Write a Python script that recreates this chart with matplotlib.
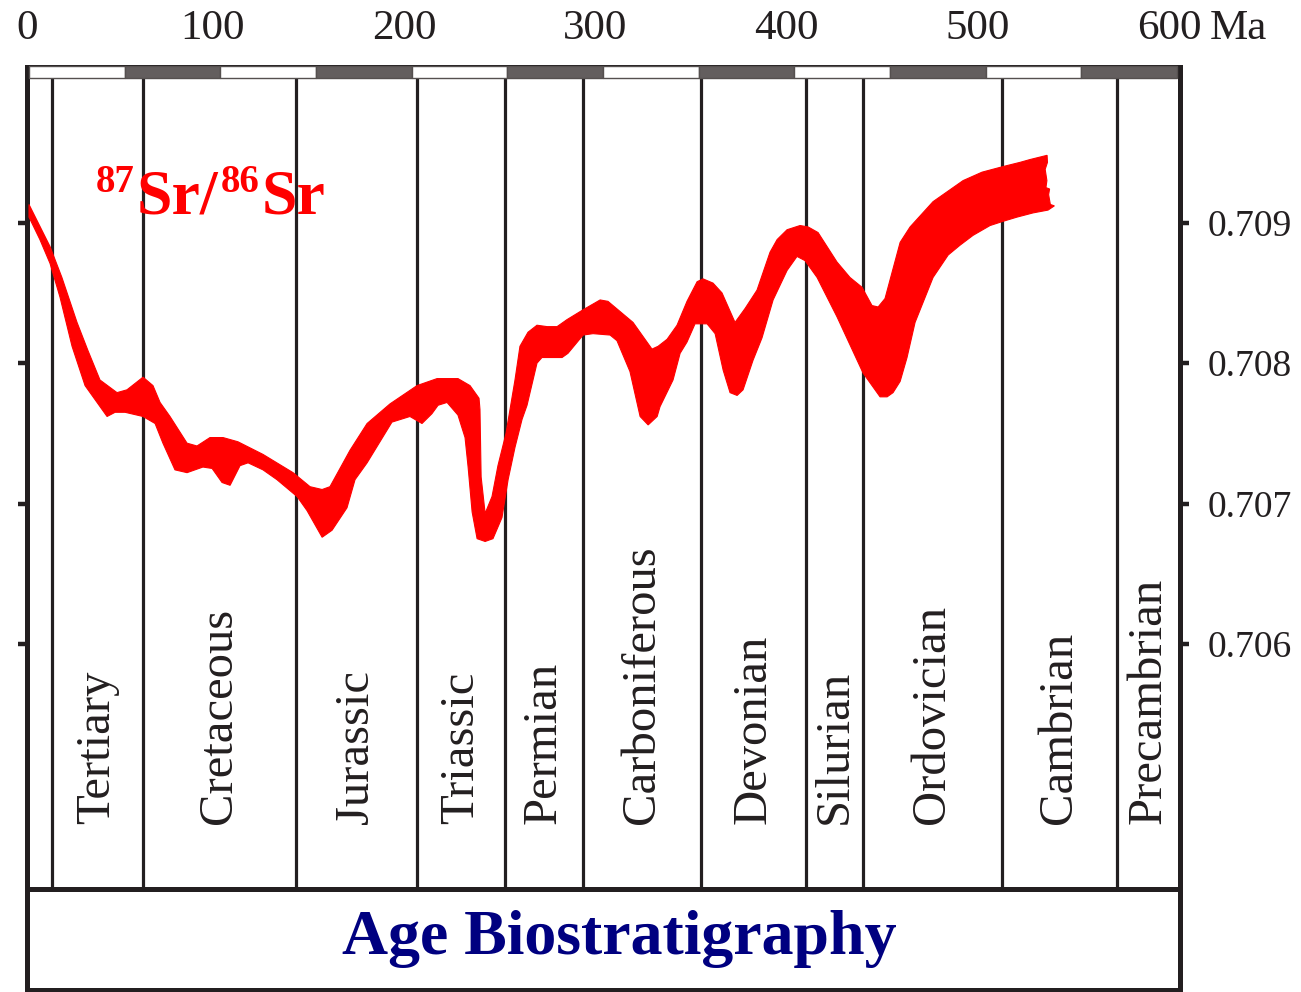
import matplotlib
matplotlib.use("Agg")
import matplotlib.pyplot as plt
from matplotlib.patches import Rectangle

W, H = 1301, 992
INK = "#231f20"
RED = "#ff0000"
NAVY = "#000080"
SERIF = ["Liberation Serif", "DejaVu Serif"]

# age axis (Ma) and strontium ratio axis
age_labels = [0, 100, 200, 300, 400, 500, 600]
sr_ticks = [0.706, 0.707, 0.708, 0.709]
bar_step = 50

# period boundaries (Ma) and names of the columns between them
boundaries = [12.0, 59.6, 139.5, 202.8, 248.8, 289.5, 351.2, 406.1, 435.9, 508.5, 568.6]
periods = ["Tertiary", "Cretaceous", "Jurassic", "Triassic", "Permian",
           "Carboniferous", "Devonian", "Silurian", "Ordovician", "Cambrian",
           "Precambrian"]

# upper edge of the 87Sr/86Sr envelope, young -> old
upper_age = [0, 11.0, 17.2, 25.1, 30.8, 37.1, 46.0, 51.2, 59.6, 64.8, 68.5, 73.7,
             82.6, 87.8, 94.6, 101.4, 109.2, 122.3, 138.0, 146.9, 153.2, 157.3,
             167.8, 176.7, 188.7, 202.8, 213.3, 224.2, 230.5, 235.2, 235.7, 236.3,
             238.4, 242.0, 245.1, 249.3, 254.0, 256.6, 260.8, 265.5, 270.8, 276.0,
             281.2, 289.6, 298.5, 302.6, 315.7, 325.6, 328.8, 333.5, 338.7, 343.9,
             349.2, 352.3, 357.5, 362.2, 369.0, 374.3, 380.5, 387.3, 391.0, 396.2,
             403.0, 407.2, 412.4, 422.3, 429.1, 435.4, 440.6, 443.8, 447.4, 455.3,
             460.5, 472.5, 488.2, 498.1, 509.1, 518.0, 523.2, 532.1, 532.3, 531.1,
             532.0, 531.5, 533.4, 532.9, 533.8]
upper_sr = [0.70913, 0.70883, 0.70861, 0.70829, 0.70809, 0.70788, 0.70779, 0.70781,
            0.70790, 0.70784, 0.70772, 0.70762, 0.70743, 0.70741, 0.70747, 0.70747,
            0.70744, 0.70735, 0.70722, 0.70712, 0.70710, 0.70712, 0.70738, 0.70757,
            0.70771, 0.70784, 0.70789, 0.70789, 0.70784, 0.70775, 0.70767, 0.70719,
            0.70693, 0.70705, 0.70727, 0.70750, 0.70788, 0.70812, 0.70822, 0.70827,
            0.70826, 0.70826, 0.70831, 0.70838, 0.70845, 0.70844, 0.70829, 0.70810,
            0.70812, 0.70817, 0.70827, 0.70844, 0.70858, 0.70860, 0.70857, 0.70850,
            0.70829, 0.70839, 0.70852, 0.70879, 0.70888, 0.70895, 0.70898, 0.70897,
            0.70893, 0.70872, 0.70861, 0.70854, 0.70841, 0.70840, 0.70846, 0.70886,
            0.70897, 0.70915, 0.70930, 0.70936, 0.70940, 0.70943, 0.70945, 0.70948,
            0.70943, 0.70938, 0.70930, 0.70925, 0.70924, 0.70920, 0.70913]

# lower edge of the envelope, young -> old
lower_age = [0, 5.7, 11.0, 16.2, 22.5, 29.3, 40.8, 45.0, 50.2, 59.6, 65.9, 70.0,
             76.3, 82.6, 90.9, 95.7, 100.9, 105.1, 110.3, 114.5, 122.3, 129.6,
             140.1, 145.3, 153.2, 158.4, 166.2, 170.4, 176.7, 189.7, 199.1, 205.4,
             210.6, 213.8, 218.5, 224.2, 227.9, 229.5, 231.6, 234.2, 238.4, 242.5,
             247.2, 250.4, 254.0, 257.7, 260.3, 265.5, 268.1, 273.4, 278.6, 281.7,
             289.6, 294.8, 303.7, 307.3, 314.1, 319.4, 323.6, 328.3, 329.8, 336.6,
             340.3, 343.9, 348.1, 354.4, 358.6, 362.8, 366.4, 370.1, 373.2, 378.4,
             383.1, 388.9, 396.2, 401.4, 405.6, 411.9, 422.3, 429.1, 435.9, 444.8,
             448.5, 451.6, 455.3, 458.9, 463.1, 472.5, 480.4, 486.6, 493.4, 502.3,
             509.1, 516.4, 524.8, 532.6, 535.9]
lower_sr = [0.70904, 0.70888, 0.70871, 0.70847, 0.70812, 0.70784, 0.70762, 0.70765,
            0.70765, 0.70762, 0.70757, 0.70743, 0.70724, 0.70722, 0.70726, 0.70725,
            0.70715, 0.70713, 0.70727, 0.70729, 0.70724, 0.70717, 0.70705, 0.70695,
            0.70676, 0.70681, 0.70697, 0.70717, 0.70729, 0.70758, 0.70762, 0.70757,
            0.70764, 0.70770, 0.70772, 0.70763, 0.70747, 0.70726, 0.70694, 0.70675,
            0.70673, 0.70675, 0.70690, 0.70717, 0.70740, 0.70760, 0.70770, 0.70800,
            0.70804, 0.70804, 0.70804, 0.70807, 0.70820, 0.70821, 0.70820, 0.70816,
            0.70794, 0.70762, 0.70756, 0.70762, 0.70769, 0.70788, 0.70807, 0.70815,
            0.70828, 0.70828, 0.70821, 0.70795, 0.70779, 0.70777, 0.70781, 0.70802,
            0.70818, 0.70845, 0.70866, 0.70876, 0.70873, 0.70861, 0.70833, 0.70813,
            0.70793, 0.70776, 0.70776, 0.70779, 0.70787, 0.70804, 0.70829, 0.70861,
            0.70877, 0.70884, 0.70891, 0.70898, 0.70901, 0.70904, 0.70907, 0.70909,
            0.70912]

fig = plt.figure(figsize=(W / 100, H / 100), dpi=100)

# pixel box of the main panel
left_px, right_px = 26.5, 1179.5
top_px, mid_px, bot_px = 66.5, 889.0, 990.0
ax = fig.add_axes([left_px / W, 1 - mid_px / H,
                   (right_px - left_px) / W, (mid_px - top_px) / H])
ax2 = fig.add_axes([left_px / W, 1 - bot_px / H,
                    (right_px - left_px) / W, (bot_px - mid_px) / H])

ppm = 1148 / 600.0  # pixels per Ma
ax.set_xlim(-(29 - left_px) / ppm, 600 + (right_px - 1177) / ppm)
ppu = 140.4 / 0.001  # pixels per ratio unit
ax.set_ylim(0.706 - (mid_px - 644) / ppu, 0.709 + (222.7 - top_px) / ppu)

for a in (ax, ax2):
    for s in a.spines.values():
        s.set_linewidth(3.6)
        s.set_color(INK)
ax2.set_xticks([])
ax2.set_yticks([])

# strontium envelope
poly_x = upper_age + lower_age[::-1]
poly_y = upper_sr + lower_sr[::-1]
ax.fill(poly_x, poly_y, color=RED, lw=0.8, zorder=3)

# alternating 50 Ma scale bar under the top frame
xt = ax.get_xaxis_transform()
bar_y0 = (mid_px - 78) / (mid_px - top_px)
for i, a0 in enumerate(range(0, 600, bar_step)):
    fc = "#635e5e" if i % 2 else "white"
    ax.add_patch(Rectangle((a0, bar_y0), bar_step, 1 - bar_y0, transform=xt,
                           facecolor=fc, edgecolor="#55504f", lw=1.0, zorder=4,
                           clip_on=False))

# period boundaries
for b in boundaries:
    ax.plot([b, b], [0, bar_y0], transform=xt, color=INK, lw=2.3, zorder=2)

edges = boundaries + [ax.get_xlim()[1]]
label_y = (mid_px - 824) / (mid_px - top_px)
for name, a0, a1 in zip(periods, edges[:-1], edges[1:]):
    ax.text((a0 + a1) / 2, label_y, name, transform=xt, rotation=90,
            ha="center", va="bottom", fontsize=35, family=SERIF, color=INK)

# ratio ticks on both sides, numbers on the right
ax.set_yticks(sr_ticks)
ax.tick_params(axis="y", which="both", left=True, right=True, labelleft=False,
               labelright=True, direction="out", length=6.5, width=3.2,
               color=INK, pad=14, labelsize=27, labelcolor=INK)
ax.set_yticklabels(["%.3f" % v for v in sr_ticks])
for lab in ax.get_yticklabels():
    lab.set_family(SERIF)

# age numbers along the top
ax.set_xticks([])
top_y = (mid_px - 29) / (mid_px - top_px)
for v in age_labels:
    ax.text(max(v - 4, -1), top_y, str(v), transform=xt, ha="center", va="center",
            fontsize=31, family=SERIF, color=INK, clip_on=False)
ax.text(617, top_y, "Ma", transform=xt, ha="left", va="center",
        fontsize=31, family=SERIF, color=INK, clip_on=False)

# 87Sr/86Sr title in red
def fig_px(x, y):
    return x / W, 1 - y / H

sup_kw = dict(fontsize=28, family=SERIF, weight="bold", color=RED, va="baseline")
big_kw = dict(fontsize=46, family=SERIF, weight="bold", color=RED, va="baseline")
fig.text(*fig_px(96, 192), "87", **sup_kw)
fig.text(*fig_px(137, 213), "Sr/", **big_kw)
fig.text(*fig_px(221, 192), "86", **sup_kw)
fig.text(*fig_px(262, 213), "Sr", **big_kw)

ax2.text(0.514, 0.5, "Age Biostratigraphy", transform=ax2.transAxes,
         ha="center", va="center", fontsize=46, family=SERIF, weight="bold",
         color=NAVY)

fig.savefig("out.png", dpi=100)
